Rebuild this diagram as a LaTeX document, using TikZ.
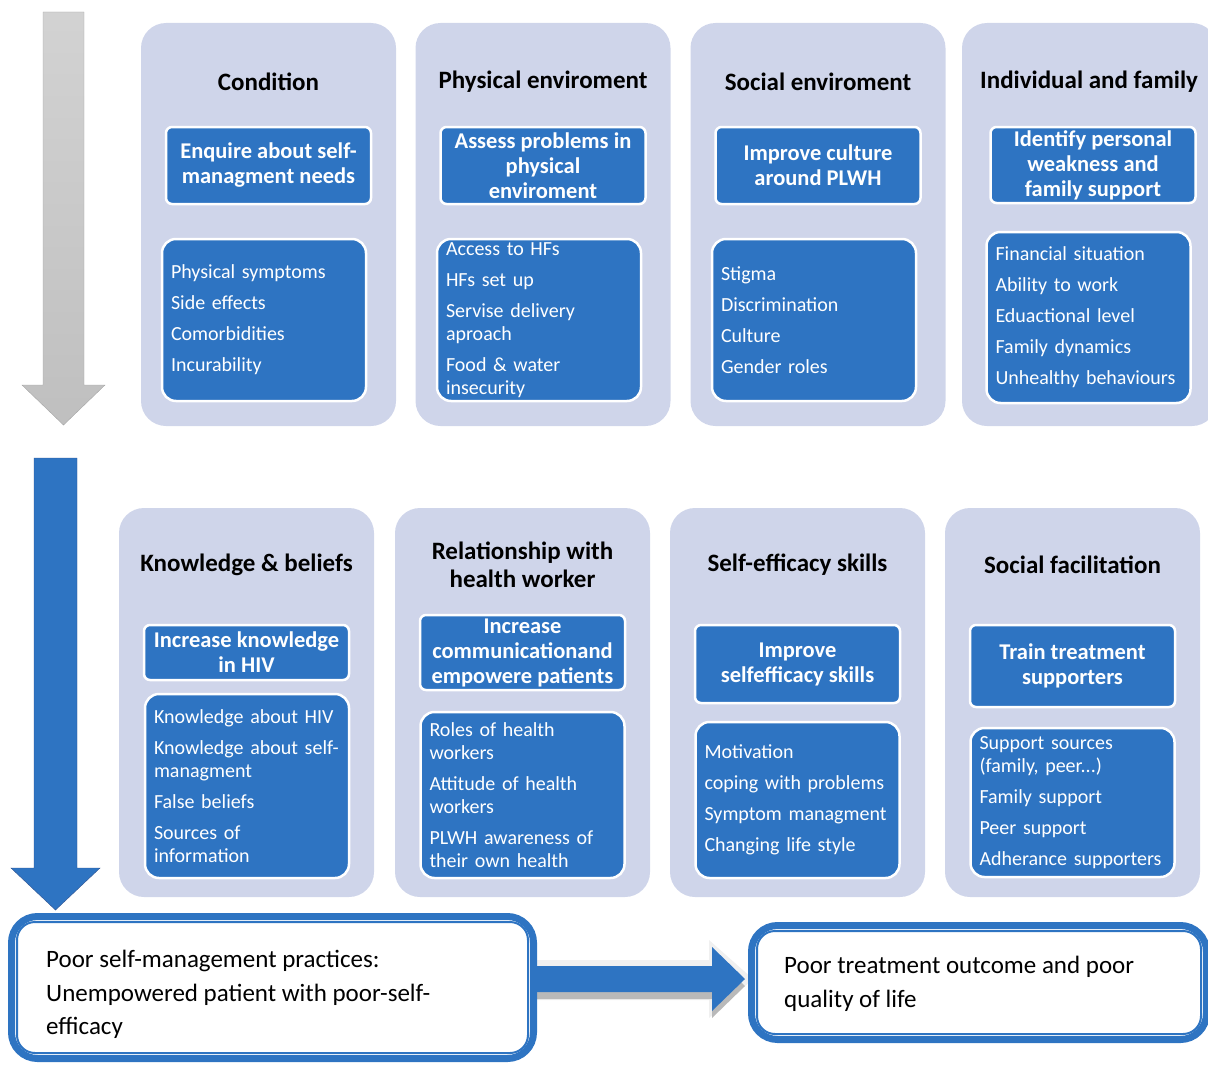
\documentclass[tikz,border=0pt]{standalone}
\usepackage{fontspec}
\setmainfont{Carlito}
\usetikzlibrary{calc}
\definecolor{panelfill}{RGB}{207,213,234}
\definecolor{boxblue}{RGB}{46,116,194}
\definecolor{arrowedge}{RGB}{47,82,143}

\begin{document}
\begin{tikzpicture}
            [x=1pt, y=-1pt,
             panel/.style={fill=panelfill, rounded corners=25, minimum width=255, inner sep=0},
             heading/.style={font=\fontsize{25}{28}\selectfont\bfseries, align=center},
             action/.style={fill=boxblue, draw=white, line width=2.5, rounded corners=6, text=white,
                            font=\fontsize{22.5}{25}\selectfont\bfseries, align=center, minimum width=205, inner sep=0},
             factors/.style={fill=boxblue, draw=white, line width=2.5, rounded corners=14, text=white,
                             font=\fontsize{20}{23}\selectfont, align=left, text width=186, minimum width=204, inner sep=0},
             result/.style={fill=white, draw=boxblue, line width=7, rounded corners=26},
             resultrim/.style={draw=boxblue, line width=2, rounded corners=18},
             resulttext/.style={font=\fontsize{25}{33.5}\selectfont, align=left, inner sep=0, anchor=west}]
            \useasboundingbox (0, 0) rectangle (1208, 1065);

            \draw[draw=gray!70, top color=gray!35, bottom color=gray!50]
                (43, 12) -- (84, 12) -- (84, 385) -- (105, 385) -- (63.5, 425) -- (22, 385) -- (43, 385) -- cycle;
            \draw[draw=arrowedge, fill=boxblue]
                (34, 458) -- (77, 458) -- (77, 868) -- (100, 868) -- (55.5, 910) -- (11, 868) -- (34, 868) -- cycle;

            \node[panel, minimum height=403] (cond) at (268.5, 224.5) {};
            \node[panel, minimum height=403] (phys) at (543, 224.5) {};
            \node[panel, minimum height=403] (soc) at (818, 224.5) {};
            \node[panel, minimum height=403] (indiv) at (1089.5, 224.5) {};
            \node[panel, minimum height=389] (know) at (246.5, 702.5) {};
            \node[panel, minimum height=389] (rel) at (522.5, 702.5) {};
            \node[panel, minimum height=389] (eff) at (797.5, 702.5) {};
            \node[panel, minimum height=389] (fac) at (1072.5, 702.5) {};

            \node[heading] (condhead) at (268.5, 82) {Condition};
            \node[heading] (physhead) at (543, 82) {Physical enviroment};
            \node[heading] (sochead) at (818, 82) {Social enviroment};
            \node[heading] (indivhead) at (1089, 82) {Individual and family};
            \node[heading] (knowhead) at (246.5, 565) {Knowledge \& beliefs};
            \node[heading] (relhead) at (522.5, 565) {Relationship with\\health worker};
            \node[heading] (effhead) at (797.5, 565) {Self-efficacy skills};
            \node[heading] (fachead) at (1072.5, 565) {Social facilitation};

            \node[action, minimum height=77] (condact) at (268.5, 165.5) {Enquire about self-\\managment needs};
            \node[action, minimum height=77] (physact) at (543, 165.5) {Assess problems in\\physical\\enviroment};
            \node[action, minimum height=77] (socact) at (818, 165.5) {Improve culture\\around PLWH};
            \node[action, minimum height=76] (indivact) at (1093, 165) {Identify personal\\weakness and\\family support};
            \node[action, minimum height=55] (knowact) at (246.5, 652.5) {Increase knowledge\\in HIV};
            \node[action, minimum height=75] (relact) at (522.5, 652.5) {Increase\\communicationand\\empowere patients};
            \node[action, minimum height=78] (effact) at (797.5, 664) {Improve\\selfefficacy skills};
            \node[action, minimum height=82] (facact) at (1072.5, 666) {Train treatment\\supporters};

            \node[factors, minimum height=162] (condlist) at (264, 320)
                {Physical symptoms\\[8pt] Side effects\\[8pt] Comorbidities\\[8pt] Incurability};
            \node[factors, minimum height=162] (physlist) at (539, 320)
                {Access to HFs\\[8pt] HFs set up\\[8pt] Servise delivery\\ aproach\\[8pt] Food \& water\\ insecurity};
            \node[factors, minimum height=162] (soclist) at (814, 320)
                {Stigma\\[8pt] Discrimination\\[8pt] Culture\\[8pt] Gender roles};
            \node[factors, minimum height=171] (indivlist) at (1088.5, 317.5)
                {Financial situation\\[8pt] Ability to work\\[8pt] Eduactional level\\[8pt] Family dynamics\\[8pt] Unhealthy behaviours};
            \node[factors, minimum height=184] (knowlist) at (247, 786)
                {Knowledge about HIV\\[8pt] Knowledge about self-\\ managment\\[8pt] False beliefs\\[8pt] Sources of\\ information};
            \node[factors, minimum height=166] (rellist) at (522.5, 795)
                {Roles of health\\ workers\\[8pt] Attitude of health\\ workers\\[8pt] PLWH awareness of\\ their own health};
            \node[factors, minimum height=156] (efflist) at (797.5, 800)
                {Motivation\\[8pt] coping with problems\\[8pt] Symptom managment\\[8pt] Changing life style};
            \node[factors, minimum height=149] (faclist) at (1072.5, 802.5)
                {Support sources\\ (family, peer...)\\[8pt] Family support\\[8pt] Peer support\\[8pt] Adherance supporters};

            \coordinate (arrtail) at (530, 979);
            \coordinate (arrtip) at (745, 979);
            \fill[gray!12] ($(arrtail)+(0,-19)$) -- ($(arrtip)+(-36,-19)$) -- ($(arrtip)+(-36,-39)$) -- ($(arrtip)+(8,0)$)
                -- ($(arrtip)+(-36,39)$) -- ($(arrtip)+(-36,21)$) -- ($(arrtail)+(0,21)$) -- cycle;
            \fill[gray!55] ($(arrtail)+(0,-6)$) -- ($(arrtip)+(-33,-6)$) -- ($(arrtip)+(-33,-25)$) -- ($(arrtip)+(0,7)$)
                -- ($(arrtip)+(-33,39)$) -- ($(arrtip)+(-33,20)$) -- ($(arrtail)+(0,20)$) -- cycle;
            \fill[boxblue] ($(arrtail)+(0,-13)$) -- ($(arrtip)+(-33,-13)$) -- ($(arrtip)+(-33,-32)$) -- (arrtip)
                -- ($(arrtip)+(-33,32)$) -- ($(arrtip)+(-33,13)$) -- ($(arrtail)+(0,13)$) -- cycle;

            \node[result, minimum width=522, minimum height=142] (poor) at (272.5, 987.5) {};
            \draw[resultrim] ([shift={(9,9)}]poor.north west) rectangle ([shift={(-9,-9)}]poor.south east);
            \node[resulttext] (poortext) at (46, 994.5)
                {Poor self-management practices:\\Unempowered patient with poor-self-\\efficacy};
            \node[result, minimum width=455, minimum height=114] (outcome) at (979, 982.5) {};
            \draw[resultrim] ([shift={(9,9)}]outcome.north west) rectangle ([shift={(-9,-9)}]outcome.south east);
            \node[resulttext] (outcometext) at (784, 984)
                {Poor treatment outcome and poor\\quality of life};
        \end{tikzpicture}
\end{document}
